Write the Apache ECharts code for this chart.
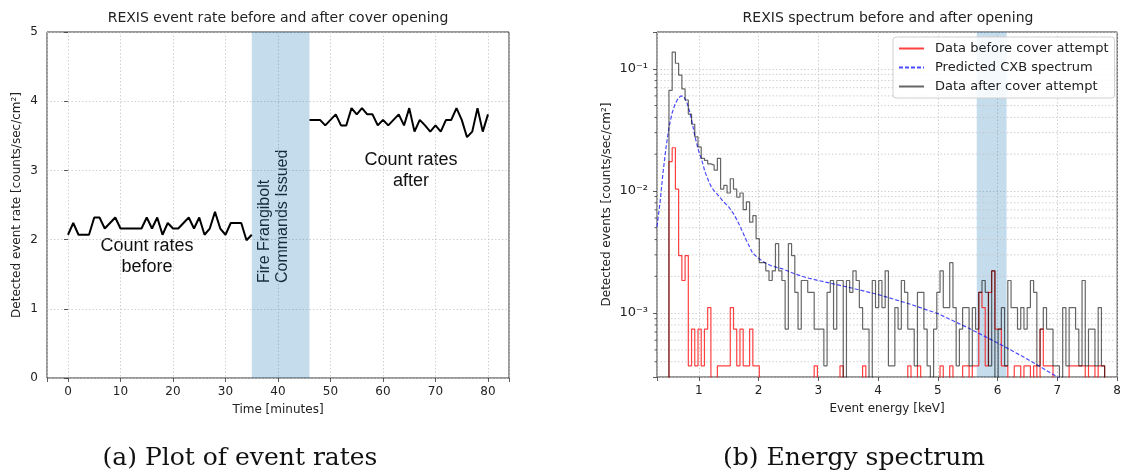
<!DOCTYPE html>
<html>
<head>
<meta charset="utf-8">
<title>REXIS event rate and spectrum</title>
<script src="https://cdn.jsdelivr.net/npm/echarts@6/dist/echarts.min.js"></script>
<style>
  html, body { margin: 0; padding: 0; background: #fff; }
  #chart { width: 1124px; height: 474px; }
</style>
</head>
<body>
<div id="chart"></div>
<script>
// (a) event rate, one sample per minute
const beforeMinutes = [0, 1, 2, 3, 4, 5, 6, 7, 8, 9, 10, 11, 12, 13, 14, 15, 16, 17, 18, 19, 20, 21, 22, 23, 24, 25, 26, 27, 28, 29, 30, 31, 32, 33, 34, 35];
const beforeRate = [2.07, 2.24, 2.07, 2.07, 2.07, 2.32, 2.32, 2.16, 2.24, 2.32, 2.16, 2.16, 2.16, 2.16, 2.16, 2.32, 2.16, 2.32, 2.07, 2.24,
    2.16, 2.16, 2.24, 2.32, 2.16, 2.32, 2.07, 2.16, 2.40, 2.16, 2.07, 2.24, 2.24, 2.24, 1.99, 2.07];
const afterMinutes = [46, 47, 48, 49, 50, 51, 52, 53, 54, 55, 56, 57, 58, 59, 60, 61, 62, 63, 64, 65, 66, 67, 68, 69, 70, 71, 72, 73, 74, 75, 76, 77, 78, 79, 80];
const afterRate = [3.73, 3.73, 3.73, 3.65, 3.73, 3.81, 3.65, 3.65, 3.90, 3.81, 3.90, 3.81, 3.81, 3.65, 3.73, 3.65, 3.73, 3.81, 3.65, 3.90,
    3.56, 3.73, 3.65, 3.56, 3.65, 3.56, 3.73, 3.73, 3.90, 3.73, 3.48, 3.56, 3.90, 3.56, 3.81];
const commandWindow = [35, 46];

// (b) spectrum: counts per bin, bins of 0.054 keV starting at 0.5 keV
const binStart = 0.5;
const binWidth = 0.054;
const ratePerCount = 3.7e-4;
const countsBefore = [47, 61, 28, 8, 5, 8, 1, 2, 1, 2, 1, 2, 3, 0, 0, 1, 1, 1, 1, 3,
    2, 1, 2, 1, 1, 2, 1, 1, 0, 0, 0, 0, 0, 0, 0, 0, 0, 0, 0, 0,
    0, 0, 0, 0, 0, 1, 0, 0, 0, 0, 0, 0, 0, 1, 0, 0, 0, 0, 0, 0,
    1, 0, 0, 0, 0, 0, 0, 0, 0, 0, 0, 0, 0, 0, 1, 0, 0, 1, 0, 0,
    0, 0, 0, 0, 1, 0, 0, 1, 0, 0, 0, 1, 1, 0, 1, 1, 4, 3, 1, 4,
    6, 2, 2, 1, 1, 0, 0, 1, 1, 0, 1, 1, 0, 1, 0, 2, 1, 1, 1, 0,
    0, 0, 0, 0, 1, 1, 1, 1, 1, 0, 1, 1, 0, 1, 1];
const countsAfter = [180, 370, 300, 240, 185, 150, 115, 95, 75, 62, 50, 48, 45, 44, 40, 50, 28, 30, 26, 34,
    28, 24, 26, 19, 22, 15, 17, 11, 7, 7, 6, 5, 6, 10, 6, 5, 2, 10, 8, 4,
    2, 5, 5, 4, 4, 2, 2, 2, 1, 4, 5, 2, 5, 5, 0, 5, 4, 6, 5, 3,
    2, 2, 0, 5, 3, 5, 3, 6, 1, 1, 3, 2, 5, 4, 2, 2, 1, 4, 4, 2,
    1, 0, 2, 4, 6, 3, 3, 7, 3, 1, 2, 3, 3, 1, 3, 2, 4, 5, 4, 1,
    6, 0, 2, 3, 1, 5, 3, 3, 2, 3, 2, 3, 5, 4, 1, 2, 3, 2, 2, 1,
    1, 0, 3, 1, 3, 3, 2, 1, 5, 1, 2, 2, 1, 3, 1];
const cxbEnergy = [0.30, 0.35, 0.40, 0.45, 0.50, 0.55, 0.60, 0.65, 0.70, 0.75, 0.80, 0.85, 0.90, 0.95, 1.00, 1.05, 1.10, 1.15, 1.20, 1.25,
    1.30, 1.40, 1.50, 1.60, 1.70, 1.80, 1.90, 2.00, 2.10, 2.20, 2.40, 2.60, 2.80, 3.00, 3.50, 4.00, 4.50, 5.00, 5.50, 6.00, 6.50, 7.00, 7.10];
const cxbRate = [0.0051, 0.0080, 0.0140, 0.0225, 0.033, 0.043, 0.051, 0.057, 0.060, 0.059, 0.053, 0.044, 0.034, 0.026, 0.021, 0.0178, 0.0145, 0.0125, 0.0110, 0.0101,
    0.0095, 0.0083, 0.0074, 0.0063, 0.0050, 0.0039, 0.0031, 0.0028, 0.0026, 0.00245, 0.0023, 0.0021, 0.00195, 0.00185, 0.00163, 0.00142, 0.00120, 0.00099, 0.00076, 0.00057, 0.00042, 0.00030, 0.00028];
const lineWindow = [5.65, 6.15];
const minorLogTicks = [4e-4, 5e-4, 6e-4, 7e-4, 8e-4, 9e-4, 2e-3, 3e-3, 4e-3, 5e-3, 6e-3, 7e-3, 8e-3, 9e-3,
    2e-2, 3e-2, 4e-2, 5e-2, 6e-2, 7e-2, 8e-2, 9e-2];

const specMin = 0.3, specMax = 8;
const FLOOR = 1e-6; // empty bins fall below the axis, like matplotlib on a log scale

function histPoints(counts) {
    const pts = [[binStart, FLOOR]];
    counts.forEach((c, i) => {
        pts.push([+(binStart + i * binWidth).toFixed(4), c > 0 ? c * ratePerCount : FLOOR]);
    });
    pts.push([+(binStart + counts.length * binWidth).toFixed(4), FLOOR]);
    return pts;
}

const supDigits = { '-': '\u207b', '1': '\u00b9', '2': '\u00b2', '3': '\u00b3' };
function logLabel(v) {
    const e = Math.log10(v);
    if (Math.abs(e - Math.round(e)) > 1e-6) return '';
    return '10' + String(Math.round(e)).split('').map(ch => supDigits[ch] || ch).join('');
}

const textColor = '#222';
const gridLine = { show: true, lineStyle: { color: '#c4c4c4', width: 0.8, type: [1.5, 2] } };
const tick = { show: true, inside: false, length: 4, lineStyle: { color: '#333', width: 0.8 } };

const chart = echarts.init(document.getElementById('chart'));
chart.setOption({
    animation: false,
    textStyle: { fontFamily: 'DejaVu Sans' },
    grid: [
        { left: 47, top: 32, width: 462, height: 346, show: true, borderColor: '#333', borderWidth: 1 },
        { left: 657, top: 32, width: 462, height: 345, show: true, borderColor: '#333', borderWidth: 1 }
    ],
    xAxis: [
        {
            gridIndex: 0, type: 'value', min: -4, max: 84, splitNumber: 9,
            name: 'Time [minutes]', nameLocation: 'middle', nameGap: 26,
            nameTextStyle: { color: textColor, fontSize: 12 },
            axisLine: { show: false }, axisTick: tick, splitLine: gridLine,
            axisLabel: { color: textColor, fontSize: 12, margin: 8, formatter: v => (v % 10 === 0 ? String(v) : '') }
        },
        {
            gridIndex: 1, type: 'value', min: specMin, max: specMax, splitNumber: 8,
            name: 'Event energy [keV]', nameLocation: 'middle', nameGap: 26,
            nameTextStyle: { color: textColor, fontSize: 12 },
            axisLine: { show: false }, axisTick: tick, splitLine: gridLine,
            axisLabel: { color: textColor, fontSize: 12, margin: 8, formatter: v => (Number.isInteger(v) ? String(v) : '') }
        }
    ],
    yAxis: [
        {
            gridIndex: 0, type: 'value', min: 0, max: 5, interval: 1,
            name: 'Detected event rate [counts/sec/cm\u00b2]', nameLocation: 'middle', nameGap: 24,
            nameTextStyle: { color: textColor, fontSize: 12 },
            axisLine: { show: false }, axisTick: tick, splitLine: gridLine,
            axisLabel: { color: textColor, fontSize: 12, margin: 9 }
        },
        {
            gridIndex: 1, type: 'log', min: 3e-4, max: 0.2,
            name: 'Detected events [counts/sec/cm\u00b2]', nameLocation: 'middle', nameGap: 44,
            nameTextStyle: { color: textColor, fontSize: 12 },
            axisLine: { show: false }, axisTick: tick, splitLine: gridLine,
            axisLabel: { color: textColor, fontSize: 13, margin: 9, formatter: logLabel }
        }
    ],
    legend: {
        data: ['Data before cover attempt', 'Predicted CXB spectrum', 'Data after cover attempt'],
        orient: 'vertical', left: 893, top: 37,
        itemWidth: 25, itemHeight: 10, itemGap: 6,
        padding: [5, 6, 5, 5],
        itemStyle: { opacity: 0 },
        backgroundColor: 'rgba(255,255,255,0.85)', borderColor: '#d0d0d0', borderWidth: 1, borderRadius: 3,
        textStyle: { color: textColor, fontSize: 13, padding: [0, 0, 0, 6] }
    },
    series: [
        {
            name: 'window', type: 'line', xAxisIndex: 0, yAxisIndex: 0, data: [], z: 1, silent: true,
            markArea: { silent: true, itemStyle: { color: 'rgba(31,119,180,0.26)' }, data: [[{ xAxis: commandWindow[0] }, { xAxis: commandWindow[1] }]] }
        },
        {
            name: 'before', type: 'line', xAxisIndex: 0, yAxisIndex: 0, symbol: 'none',
            data: beforeMinutes.map((t, i) => [t, beforeRate[i]]),
            lineStyle: { color: '#000', width: 2 }
        },
        {
            name: 'after', type: 'line', xAxisIndex: 0, yAxisIndex: 0, symbol: 'none',
            data: afterMinutes.map((t, i) => [t, afterRate[i]]),
            lineStyle: { color: '#000', width: 2 }
        },
        {
            name: 'lineWindow', type: 'line', xAxisIndex: 1, yAxisIndex: 1, data: [], z: 1, silent: true,
            markArea: { silent: true, itemStyle: { color: 'rgba(31,119,180,0.26)' }, data: [[{ xAxis: lineWindow[0] }, { xAxis: lineWindow[1] }]] }
        },
        {
            name: 'minor', type: 'custom', xAxisIndex: 1, yAxisIndex: 1, silent: true, z: 1,
            encode: { x: 0, y: 1 },
            data: minorLogTicks.map(v => [specMin, v]),
            renderItem: (params, api) => {
                const v = api.value(1);
                const a = api.coord([specMin, v]);
                const b = api.coord([specMax, v]);
                return {
                    type: 'group',
                    children: [
                        { type: 'line', shape: { x1: a[0], y1: a[1], x2: b[0], y2: b[1] }, style: { stroke: '#c4c4c4', lineWidth: 0.8, lineDash: [1.5, 2] } },
                        { type: 'line', shape: { x1: a[0] - 2.5, y1: a[1], x2: a[0], y2: a[1] }, style: { stroke: '#333', lineWidth: 0.8 } }
                    ]
                };
            }
        },
        {
            name: 'Data before cover attempt', type: 'line', xAxisIndex: 1, yAxisIndex: 1,
            step: 'end', symbol: 'none', data: histPoints(countsBefore), z: 3,
            color: 'rgba(255,0,0,0.75)', lineStyle: { color: 'rgba(255,0,0,0.75)', width: 1.2 }
        },
        {
            name: 'Predicted CXB spectrum', type: 'line', xAxisIndex: 1, yAxisIndex: 1,
            symbol: 'none', data: cxbEnergy.map((e, i) => [e, cxbRate[i]]), z: 4,
            color: 'rgba(30,30,255,0.8)', lineStyle: { color: 'rgba(30,30,255,0.8)', width: 1.2, type: [4, 2] }
        },
        {
            name: 'Data after cover attempt', type: 'line', xAxisIndex: 1, yAxisIndex: 1,
            step: 'end', symbol: 'none', data: histPoints(countsAfter), z: 5,
            color: 'rgba(0,0,0,0.6)', lineStyle: { color: 'rgba(0,0,0,0.6)', width: 1.2 }
        }
    ],
    graphic: [
        { type: 'text', x: 278, y: 18, style: { text: 'REXIS event rate before and after cover opening', font: '14px "DejaVu Sans"', fill: textColor, align: 'center', verticalAlign: 'middle' } },
        { type: 'text', x: 888, y: 18, style: { text: 'REXIS spectrum before and after opening', font: '14px "DejaVu Sans"', fill: textColor, align: 'center', verticalAlign: 'middle' } },
        { type: 'text', x: 147, y: 257, style: { text: 'Count rates\nbefore', font: '18px "Liberation Sans"', lineHeight: 21, fill: '#111', align: 'center', verticalAlign: 'middle' } },
        { type: 'text', x: 411, y: 171, style: { text: 'Count rates\nafter', font: '18px "Liberation Sans"', lineHeight: 21, fill: '#111', align: 'center', verticalAlign: 'middle' } },
        { type: 'text', x: 274, y: 283, rotation: Math.PI / 2, style: { text: 'Fire Frangibolt\nCommands Issued', font: '16px "Liberation Sans"', lineHeight: 18, fill: '#111', align: 'left', verticalAlign: 'middle' } },
        { type: 'text', x: 240, y: 458, style: { text: '(a) Plot of event rates', font: '25px "DejaVu Serif"', fill: '#111', align: 'center', verticalAlign: 'middle' } },
        { type: 'text', x: 854, y: 458, style: { text: '(b) Energy spectrum', font: '25px "DejaVu Serif"', fill: '#111', align: 'center', verticalAlign: 'middle' } }
    ]
});

window.addEventListener('resize', () => chart.resize());
</script>
</body>
</html>
